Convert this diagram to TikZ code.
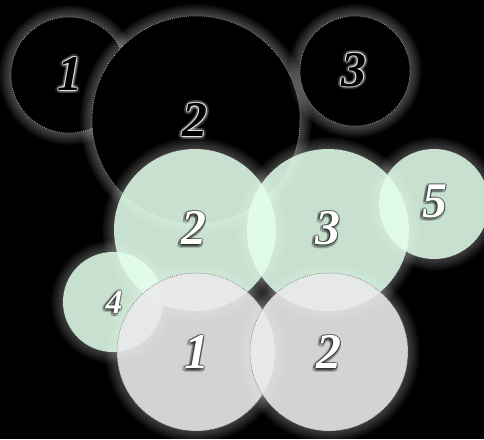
\documentclass[tikz,border=0pt]{standalone}
\usepackage{fontspec}
\setmainfont{Liberation Serif}
\definecolor{mint}{RGB}{227,255,236}
\definecolor{ash}{RGB}{235,235,235}
\tikzset{
  num/.style={font=\fontsize{50}{54}\selectfont\bfseries\itshape,inner sep=0pt},
  rim/.style={line cap=butt,dash pattern=on 0.8pt off 1.2pt,line width=0.5pt},
  glow/.style={white,opacity=0.028,even odd rule}
}
\begin{document}
\begin{tikzpicture}[line cap=round,line join=round,x=1pt,y=-1pt]
\clip (0,0) rectangle (484,439);
\fill[black] (0,0) rectangle (484,439);
% top row, black discs
\foreach \cx/\cy/\r in {69/75/58, 196/120/104, 355/71/55}{
  \foreach \i in {1,...,12}
    \fill[glow] (\cx,\cy) circle (\r+\i) (\cx,\cy) circle (\r);
  \fill[black] (\cx,\cy) circle (\r);
  \draw[rim,white!80!black] (\cx,\cy) circle (\r);
}
% glow under the light discs
\foreach \cx/\cy/\r in {195/230/81, 328/230/81, 434/204/55, 113/302/50, 196/352/79, 329/352/79}
  \foreach \i in {1,...,12}
    \fill[glow,opacity=0.022] (\cx,\cy) circle (\r+\i) (\cx,\cy) circle (\r);
% green discs
\foreach \cx/\cy/\r in {195/230/81, 328/230/81, 434/204/55, 113/302/50}{
  \fill[mint,opacity=0.88] (\cx,\cy) circle (\r);
  \draw[rim,white,opacity=0.4] (\cx,\cy) circle (\r);
}
% grey discs
\foreach \cx/\cy/\r in {196/352/79, 329/352/79}{
  \fill[ash,opacity=0.9] (\cx,\cy) circle (\r);
  \draw[rim,black!65] (\cx,\cy) circle (\r);
}
% labels on black
\foreach \x/\y/\t/\n in {70/74/1/b1, 195/120/2/b2, 354/70/3/b3}{
  \foreach \a in {0,30,...,330}
    \node[num,text=white,opacity=0.1] (\n h\a) at ([shift={(\a:3)}]\x,\y) {\t};
  \foreach \a in {0,45,...,315}
    \node[num,text=white,opacity=0.45] (\n o\a) at ([shift={(\a:0.9)}]\x,\y) {\t};
  \node[num,text=black] (\n) at (\x,\y) {\t};
}
% labels on light discs
\foreach \x/\y/\t/\n/\s in {194/228/2/g2/50, 328/228/3/g3/50, 435/201/5/g5/50, 114/302/4/g4/34, 197/352/1/a1/50, 329/352/2/a2/50}{
  \foreach \a in {0,45,...,315}
    \node[num,font=\fontsize{\s}{\s}\selectfont\bfseries\itshape,text=black,opacity=0.18] (\n s\a) at ([shift={(\a:2.2)}]\x-1,\y+1.5) {\t};
  \foreach \a in {0,90,180,270}
    \node[num,font=\fontsize{\s}{\s}\selectfont\bfseries\itshape,text=black,opacity=0.35] (\n o\a) at ([shift={(\a:0.7)}]\x,\y) {\t};
  \node[num,font=\fontsize{\s}{\s}\selectfont\bfseries\itshape,text=white] (\n) at (\x,\y) {\t};
}
\end{tikzpicture}
\end{document}
